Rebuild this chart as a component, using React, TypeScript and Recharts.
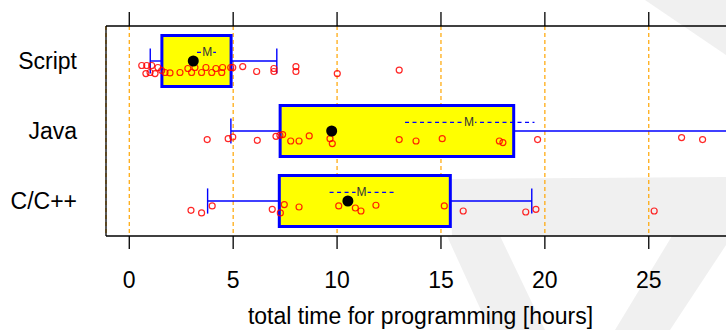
import React from 'react';
import {
  CartesianGrid,
  ComposedChart,
  Label,
  ReferenceArea,
  ReferenceLine,
  Scatter,
  XAxis,
  YAxis
} from 'recharts';

// groups, top to bottom
const categories = ['Script', 'Java', 'C/C++'];
const rows = [3, 2, 1];

// box statistics [hours]
const q1 = [1.57, 7.26, 7.22];
const q3 = [4.9, 18.5, 15.45];
const whiskerLow = [1.01, 4.89, 3.77];
const whiskerHigh = [7.1, 28.9, 19.37];
const medians = [3.08, 9.74, 10.52];
const means = [3.75, 16.35, 11.18];
const meanLow = [3.26, 13.27, 9.64];
const meanHigh = [4.22, 19.5, 12.84];

// individual times [hours] with their vertical jitter (in rows)
const scriptTimes = [
  0.6, 0.84, 1.08, 0.8, 1.0, 1.24, 1.38, 1.56, 1.72, 1.96, 2.44, 2.82, 3.0, 3.16, 3.48,
  3.69, 3.97, 4.17, 4.45, 4.49, 4.88, 4.98, 5.46, 6.13, 6.96, 6.96, 8.02, 8.02, 10.01, 12.99
];
const scriptJitter = [
  -0.064, -0.064, -0.064, -0.179, -0.164, -0.179, -0.093, -0.136, -0.164, -0.171, -0.164,
  -0.107, -0.164, -0.093, -0.164, -0.093, -0.164, -0.107, -0.164, -0.093, -0.093, -0.093,
  -0.079, -0.15, -0.107, -0.15, -0.079, -0.15, -0.179, -0.129
];
const javaTimes = [
  3.75, 4.76, 4.98, 6.16, 7.06, 7.25, 7.38, 7.77, 8.17, 8.66, 9.66, 9.77, 12.99, 13.8, 15.06,
  17.81, 17.98, 19.65, 26.58, 27.59, 28.9
];
const javaJitter = [
  -0.123, -0.109, -0.086, -0.133, -0.076, -0.061, -0.051, -0.143, -0.143, -0.071, -0.109,
  -0.18, -0.123, -0.143, -0.109, -0.143, -0.166, -0.123, -0.094, -0.123, -0.114
];
const cTimes = [
  2.97, 3.48, 3.99, 6.88, 7.27, 7.46, 8.17, 10.08, 10.88, 11.15, 11.87, 15.16, 16.07, 19.08,
  19.57, 25.26
];
const cJitter = [
  -0.133, -0.171, -0.071, -0.119, -0.171, -0.051, -0.086, -0.071, -0.1, -0.143, -0.061, -0.071,
  -0.143, -0.157, -0.119, -0.143
];

const xTicks = [0, 5, 10, 15, 20, 25];
const xDomain: [number, number] = [-1.12, 29.15];
const yDomain: [number, number] = [0.5, 3.5];

const BOX_HALF = 0.364;
const CAP_HALF = 0.18;
const MEAN_ROW_SHIFT = 0.123;
// outward tick marks, in rows (one row = 70px)
const TOP_TICK_LEN = 0.2;
const BOTTOM_TICK_LEN = 0.186;
const FONT = '"Liberation Sans", Arial, Helvetica, sans-serif';
const AXIS_LINE = { stroke: '#000', strokeWidth: 1.3 };

const pointSets = [
  { times: scriptTimes, jitter: scriptJitter },
  { times: javaTimes, jitter: javaJitter },
  { times: cTimes, jitter: cJitter }
];
const points = pointSets.flatMap((set, g) =>
  set.times.map((x, i) => ({ x, y: rows[g] + set.jitter[i] }))
);
const medianPoints = medians.map((x, g) => ({ x, y: rows[g] }));
const meanPoints = means.map((x, g) => ({ x, y: rows[g] + MEAN_ROW_SHIFT }));

const rowLabel = (v: number) => categories[rows.indexOf(v)] ?? '';

const OpenCircle = (p: any) => (
  <circle cx={p.cx} cy={p.cy} r={3} fill="none" stroke="#ff0000" strokeOpacity={0.85} strokeWidth={1.2} />
);
const MedianDot = (p: any) => <circle cx={p.cx} cy={p.cy} r={5.5} fill="#000" />;
// "M" sits on the dashed mean interval; a small yellow pad breaks the dashes behind it
const MeanMark = (p: any) => (
  <g>
    <rect x={p.cx - 6} y={p.cy - 2} width={12} height={4} fill="#ffff00" />
    <text
      x={p.cx}
      y={p.cy}
      textAnchor="middle"
      dominantBaseline="central"
      fontSize={12}
      fontFamily={FONT}
      fill="#333"
    >
      M
    </text>
  </g>
);

export default function App() {
  return (
    <div style={{ position: 'relative', width: 726, height: 330, overflow: 'hidden', background: '#fff' }}>
      <style>{'body{margin:0}'}</style>
      {/* faint slide watermark behind the plot */}
      <svg width={726} height={330} style={{ position: 'absolute', left: 0, top: 0 }}>
        <polygon points="450,179 726,177 726,236 452,236" fill="#f0f0f0" />
        <polygon points="447,236 500,236 545,330 490,330" fill="#f0f0f0" />
        <polygon points="672,236 732,236 670,330 615,330" fill="#f0f0f0" />
        <polygon points="645,0 726,0 726,55" fill="#f0f0f0" />
      </svg>
      <div style={{ position: 'absolute', left: 0, top: 0 }}>
        <ComposedChart width={740} height={330} margin={{ top: 0, right: 5, bottom: 0, left: 0 }}>
          <CartesianGrid horizontal={false} stroke="#ffa500" strokeDasharray="4 3" strokeWidth={1.2} />
          <XAxis
            type="number"
            dataKey="x"
            domain={xDomain}
            ticks={xTicks}
            interval={0}
            allowDataOverflow
            height={94}
            tickSize={13}
            tickMargin={23}
            axisLine={AXIS_LINE}
            tickLine={false}
            tick={{ fill: '#000', fontSize: 23, fontFamily: FONT }}
          >
            <Label
              value="total time for programming [hours]"
              position="insideBottom"
              offset={6}
              fill="#000"
              fontSize={23}
              fontFamily={FONT}
            />
          </XAxis>
          <XAxis
            xAxisId="top"
            orientation="top"
            type="number"
            domain={xDomain}
            ticks={xTicks}
            interval={0}
            allowDataOverflow
            height={26}
            tick={false}
            tickLine={false}
            axisLine={AXIS_LINE}
          />
          <YAxis
            type="number"
            dataKey="y"
            domain={yDomain}
            ticks={[1, 2, 3]}
            interval={0}
            allowDataOverflow
            width={106}
            tickLine={false}
            tickSize={0}
            tickMargin={29}
            tickFormatter={rowLabel}
            axisLine={AXIS_LINE}
            tick={{ fill: '#000', fontSize: 23, fontFamily: FONT }}
          />

          {/* tick marks outside the frame, top and bottom */}
          {xTicks.map((t) => (
            <ReferenceLine
              key={`tt-${t}`}
              segment={[{ x: t, y: yDomain[1] }, { x: t, y: yDomain[1] + TOP_TICK_LEN }]}
              ifOverflow="visible"
              stroke="#000"
              strokeWidth={1.3}
            />
          ))}
          {xTicks.map((t) => (
            <ReferenceLine
              key={`tb-${t}`}
              segment={[{ x: t, y: yDomain[0] }, { x: t, y: yDomain[0] - BOTTOM_TICK_LEN }]}
              ifOverflow="visible"
              stroke="#000"
              strokeWidth={1.3}
            />
          ))}

          {rows.map((row, g) => (
            <ReferenceLine
              key={`wl-${g}`}
              segment={[{ x: whiskerLow[g], y: row }, { x: q1[g], y: row }]}
              stroke="#0000ff"
              strokeWidth={1.4}
              zIndex={90}
            />
          ))}
          {rows.map((row, g) => (
            <ReferenceLine
              key={`wh-${g}`}
              segment={[{ x: q3[g], y: row }, { x: whiskerHigh[g], y: row }]}
              stroke="#0000ff"
              strokeWidth={1.4}
              zIndex={90}
            />
          ))}
          {rows.map((row, g) => (
            <ReferenceLine
              key={`cl-${g}`}
              segment={[{ x: whiskerLow[g], y: row - CAP_HALF }, { x: whiskerLow[g], y: row + CAP_HALF }]}
              stroke="#0000ff"
              strokeWidth={1.4}
              zIndex={90}
            />
          ))}
          {rows.map((row, g) => (
            <ReferenceLine
              key={`ch-${g}`}
              segment={[{ x: whiskerHigh[g], y: row - CAP_HALF }, { x: whiskerHigh[g], y: row + CAP_HALF }]}
              stroke="#0000ff"
              strokeWidth={1.4}
              zIndex={90}
            />
          ))}
          {rows.map((row, g) => (
            <ReferenceArea
              key={`box-${g}`}
              x1={q1[g]}
              x2={q3[g]}
              y1={row - BOX_HALF}
              y2={row + BOX_HALF}
              fill="#ffff00"
              fillOpacity={1}
              stroke="#0000ff"
              strokeWidth={3}
              zIndex={100}
            />
          ))}
          {rows.map((row, g) => (
            <ReferenceLine
              key={`mean-${g}`}
              segment={[
                { x: meanLow[g], y: row + MEAN_ROW_SHIFT },
                { x: meanHigh[g], y: row + MEAN_ROW_SHIFT }
              ]}
              stroke="#0000ff"
              strokeWidth={1.4}
              strokeDasharray="4 3.5"
              zIndex={110}
            />
          ))}
          <Scatter data={points} shape={OpenCircle} isAnimationActive={false} zIndex={120} />
          <Scatter data={medianPoints} shape={MedianDot} isAnimationActive={false} zIndex={130} />
          <Scatter data={meanPoints} shape={MeanMark} isAnimationActive={false} zIndex={140} />
        </ComposedChart>
      </div>
    </div>
  );
}
